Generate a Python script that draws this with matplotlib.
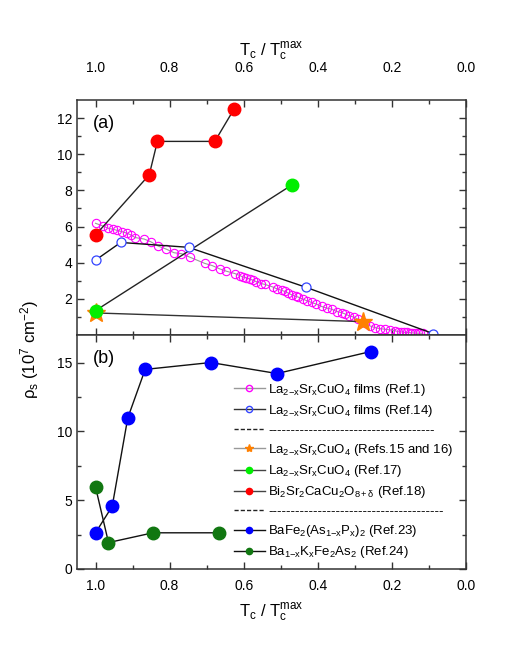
import matplotlib
matplotlib.use("Agg")
import matplotlib.pyplot as plt
from matplotlib.lines import Line2D

plt.rcParams['font.family'] = ['Liberation Sans', 'DejaVu Sans']
plt.rcParams['mathtext.fontset'] = 'custom'
plt.rcParams['mathtext.rm'] = 'Liberation Sans'
plt.rcParams['mathtext.it'] = 'Liberation Sans'
plt.rcParams['mathtext.bf'] = 'Liberation Sans:bold'

# (a) La2-xSrxCuO4 films, Ref.1
ref1_x = [1.0, 0.98, 0.965, 0.953, 0.942, 0.929, 0.915, 0.904, 0.893, 0.869, 0.851,
          0.831, 0.809, 0.788, 0.768, 0.746, 0.705, 0.685, 0.665, 0.647, 0.624, 0.611,
          0.602, 0.593, 0.584, 0.575, 0.566, 0.552, 0.543, 0.522, 0.51, 0.498, 0.489,
          0.48, 0.471, 0.459, 0.453, 0.441, 0.429, 0.417, 0.404, 0.39, 0.376, 0.363,
          0.349, 0.336, 0.327, 0.315, 0.303, 0.291, 0.273, 0.259, 0.246, 0.232, 0.219,
          0.205, 0.192, 0.183, 0.175, 0.168, 0.16, 0.152, 0.145, 0.138, 0.13, 0.123, 0.117]
ref1_y = [6.18, 6.03, 5.9, 5.85, 5.79, 5.72, 5.63, 5.53, 5.39, 5.31, 5.16,
          4.92, 4.75, 4.55, 4.5, 4.31, 3.96, 3.84, 3.66, 3.53, 3.4, 3.29,
          3.21, 3.16, 3.1, 3.03, 2.95, 2.84, 2.8, 2.66, 2.55, 2.47, 2.41,
          2.32, 2.23, 2.13, 2.1, 1.99, 1.89, 1.8, 1.71, 1.58, 1.49, 1.43,
          1.3, 1.24, 1.17, 1.06, 0.99, 0.87, 0.69, 0.5, 0.41, 0.35, 0.32,
          0.28, 0.24, 0.18, 0.17, 0.15, 0.14, 0.13, 0.12, 0.11, 0.1, 0.1, 0.09]

# (a) La2-xSrxCuO4 films, Ref.14
ref14_x = [1.0, 0.932, 0.749, 0.432, 0.089]
ref14_y = [4.14, 5.12, 4.85, 2.64, 0.08]

# (a) La2-xSrxCuO4, Refs.15 and 16
ref15_x = [1.0, 0.278]
ref15_y = [1.22, 0.74]

# (a) La2-xSrxCuO4, Ref.17
ref17_x = [1.0, 0.47]
ref17_y = [1.35, 8.3]

# (a) Bi2212, Ref.18
ref18_x = [1.0, 0.855, 0.833, 0.678, 0.626]
ref18_y = [5.53, 8.86, 10.71, 10.71, 12.5]

# (b) BaFe2(As1-xPx)2, Ref.23
ref23_x = [1.0, 0.955, 0.913, 0.866, 0.689, 0.51, 0.257]
ref23_y = [2.63, 4.55, 10.97, 14.5, 15.0, 14.2, 15.8]

# (b) Ba1-xKxFe2As2, Ref.24
ref24_x = [1.0, 0.965, 0.845, 0.668]
ref24_y = [5.96, 1.92, 2.63, 2.63]

fig = plt.figure(figsize=(5.18, 6.70), dpi=100)
ax1 = fig.add_axes([77/518, 0.5, 389/518, 0.5 - 100/670])
ax2 = fig.add_axes([77/518, 1 - 569/670, 389/518, 0.5 - 101/670])

# panel (a)
ax1.plot(ref1_x, ref1_y, '-', color='#999999', lw=0.8, marker='o', ms=6,
         mfc='none', mec='#ff00ff', mew=0.8)
ax1.plot(ref15_x, ref15_y, '-', color='#333333', lw=1, marker='*', ms=14,
         mfc='#ff8000', mec='#ff8000')
ax1.plot(ref17_x, ref17_y, '-', color='#222222', lw=1, marker='o', ms=9,
         mfc='#00ee00', mec='#00ee00')
ax1.plot(ref18_x, ref18_y, '-', color='#222222', lw=1, marker='o', ms=9,
         mfc='#ff0000', mec='#ff0000')
ax1.plot(ref14_x, ref14_y, '-', color='#111111', lw=1, marker='o', ms=6.5,
         mfc='white', mec='#3344ff', mew=0.9)

# panel (b)
ax2.plot(ref23_x, ref23_y, '-', color='#111111', lw=1, marker='o', ms=9,
         mfc='#0000ff', mec='#0000ff')
ax2.plot(ref24_x, ref24_y, '-', color='#111111', lw=1, marker='o', ms=9,
         mfc='#117711', mec='#117711')

ax1.set_ylim(0, 13)
ax1.set_yticks([2, 4, 6, 8, 10, 12])
ax1.set_yticks(range(1, 13, 2), minor=True)
ax2.set_ylim(0, 17)
ax2.set_yticks([0, 5, 10, 15])
ax2.set_yticks([2.5, 7.5, 12.5], minor=True)

for ax in (ax1, ax2):
    ax.set_xlim(1.05, 0.0)
    ax.set_xticks([1.0, 0.8, 0.6, 0.4, 0.2, 0.0])
    ax.set_xticks([0.9, 0.7, 0.5, 0.3, 0.1], minor=True)
    ax.tick_params(which='both', direction='in', top=True, right=True,
                   labelsize=10, color='#333333')
    ax.tick_params(which='major', length=5, width=1)
    ax.tick_params(which='minor', length=3, width=1)
    for s in ax.spines.values():
        s.set_linewidth(1.1)
        s.set_color('#333333')

ax1.tick_params(axis='x', labelbottom=False, labeltop=True, pad=18)
ax1.xaxis.set_label_position('top')
ax1.set_xlabel(r'T$_c$ / T$_c^{\mathregular{max}}$', fontsize=12, labelpad=4)
ax2.tick_params(axis='x', pad=7)
ax2.set_xlabel(r'T$_c$ / T$_c^{\mathregular{max}}$', fontsize=12, labelpad=6)

fig.text(30/518, 1 - 350/670, r'$\rho_s$ (10$^7$ cm$^{-2}$)', rotation=90,
         fontsize=12, ha='center', va='center')

ax1.text(0.04, 0.9, '(a)', transform=ax1.transAxes, fontsize=13, va='center')
ax2.text(0.04, 0.9, '(b)', transform=ax2.transAxes, fontsize=13, va='center')

# legend with proxy handles
sep = Line2D([], [], color='#222222', ls=(0, (3, 1.5)), lw=1)
handles = [
    Line2D([], [], color='#999999', lw=1, marker='o', ms=4.5, mfc='none', mec='#ff00ff'),
    Line2D([], [], color='#333333', lw=1, marker='o', ms=4.5, mfc='none', mec='#3344ff'),
    sep,
    Line2D([], [], color='#999999', lw=1, marker='*', ms=6, mfc='#ff8000', mec='#ff8000'),
    Line2D([], [], color='#444444', lw=1, marker='o', ms=4.5, mfc='#00ee00', mec='#00ee00'),
    Line2D([], [], color='#444444', lw=1, marker='o', ms=4.5, mfc='#ff0000', mec='#ff0000'),
    sep,
    Line2D([], [], color='#111111', lw=1, marker='o', ms=4.5, mfc='#0000ff', mec='#0000ff'),
    Line2D([], [], color='#111111', lw=1, marker='o', ms=4.5, mfc='#117711', mec='#117711'),
]
labels = [
    r'La$_{2\mathregular{-}x}$Sr$_x$CuO$_4$ films (Ref.1)',
    r'La$_{2\mathregular{-}x}$Sr$_x$CuO$_4$ films (Ref.14)',
    '-' * 37,
    r'La$_{2\mathregular{-}x}$Sr$_x$CuO$_4$ (Refs.15 and 16)',
    r'La$_{2\mathregular{-}x}$Sr$_x$CuO$_4$ (Ref.17)',
    r'Bi$_2$Sr$_2$CaCu$_2$O$_{8+\delta}$ (Ref.18)',
    '-' * 39,
    r'BaFe$_2$(As$_{1\mathregular{-}x}$P$_x$)$_2$ (Ref.23)',
    r'Ba$_{1\mathregular{-}x}$K$_x$Fe$_2$As$_2$ (Ref.24)',
]
ax2.legend(handles, labels, loc='upper left', bbox_to_anchor=(0.404, 0.80),
           frameon=False, fontsize=9.5, handlelength=2.3, handletextpad=0.3,
           labelspacing=0.4, borderaxespad=0, borderpad=0)

fig.savefig('out.png', dpi=100)
